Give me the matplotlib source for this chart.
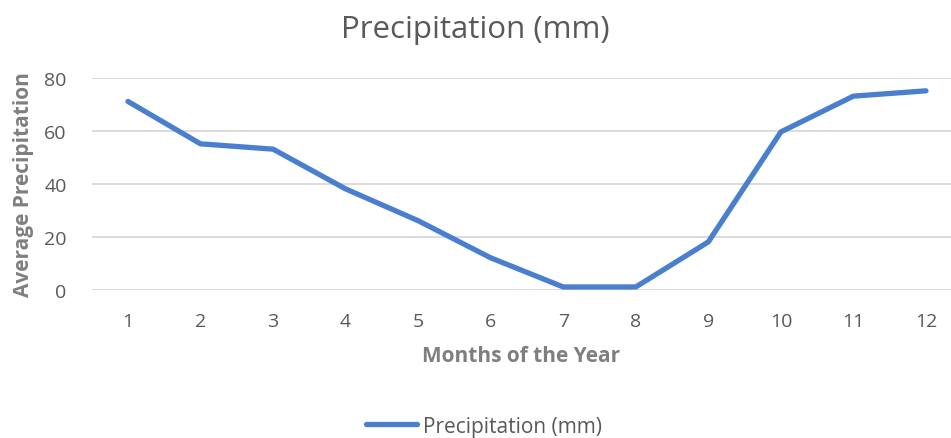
import matplotlib.pyplot as plt

# monthly average precipitation
months = [1, 2, 3, 4, 5, 6, 7, 8, 9, 10, 11, 12]
precip = [71, 55, 53, 38, 26, 12, 1, 1, 18, 59.5, 73, 75]
yticks = [0, 20, 40, 60, 80]

plt.rcParams['font.family'] = ['Open Sans', 'DejaVu Sans']
text_col = '#595959'

fig = plt.figure(figsize=(9.51, 4.39), dpi=100)
ax = fig.add_axes([0.0964, 0.338, 0.9036, 0.483])

ax.plot(months, precip, color='#4a7fcf', lw=3.8, solid_capstyle='round',
        solid_joinstyle='round', label='Precipitation (mm)')

ax.set_xlim(0.5, 12.345)
ax.set_ylim(0, 80)
ax.set_xticks(months)
ax.set_yticks(yticks)
ax.grid(axis='y', color='#d9d9d9', lw=1.3)
ax.set_axisbelow(True)
for s in ax.spines.values():
    s.set_visible(False)
ax.tick_params(length=0, labelsize=14, labelcolor=text_col)
ax.tick_params(axis='x', pad=16)
ax.tick_params(axis='y', pad=18)

ax.set_xlabel('Months of the Year', fontsize=15, fontweight='bold',
              color='#7f7f7f', labelpad=11)
ax.set_ylabel('Average Precipitation', fontsize=15, fontweight='bold',
              color='#7f7f7f', labelpad=7)
fig.text(0.5, 0.932, 'Precipitation (mm)', ha='center', va='center',
         fontsize=22.5, color=text_col)

fig.legend(loc='center', bbox_to_anchor=(0.509, 0.027), frameon=False,
           fontsize=15, labelcolor=text_col, handlelength=2.45,
           handletextpad=0.3)

fig.savefig('out.png', dpi=100)
